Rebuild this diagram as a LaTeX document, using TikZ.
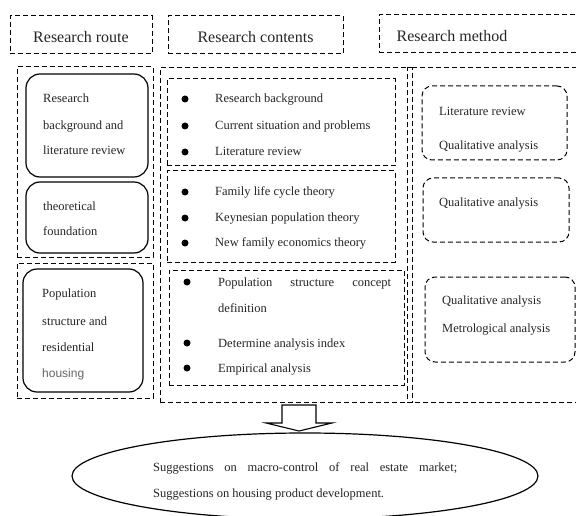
\documentclass[tikz,border=0pt]{standalone}
\usepackage{fontspec}
\setmainfont{Liberation Serif}
\newfontfamily\hsans{Liberation Sans}
\usetikzlibrary{positioning,shapes.geometric}
\tikzset{
  dbox/.style={draw, dash pattern=on 5pt off 3pt, line width=1pt, inner sep=0pt},
  rbox/.style={draw, line width=1.2pt, rounded corners=14pt, inner sep=0pt},
  drbox/.style={draw, dash pattern=on 5pt off 3pt, line width=1pt, rounded corners=10pt, inner sep=0pt},
  hd/.style={font=\fontsize{16}{19}\selectfont, inner sep=0pt, text=black!85},
  tx/.style={font=\fontsize{12.5}{15}\selectfont, anchor=base west, inner sep=0pt, text=black!85},
  bul/.style={circle, fill=black, inner sep=0pt, minimum size=7pt},
}
\begin{document}
\begin{tikzpicture}[x=1pt,y=-1pt]
\clip (0,0) rectangle (576,516);
\fill[white] (0,0) rectangle (576,516);
% headers
\node[dbox, minimum width=142pt, minimum height=38pt] (h1) at (81,35) {};
\node[hd] (h1t) at (81,37) {Research route};
\node[dbox, minimum width=175pt, minimum height=38pt] (h2) at (255.5,35) {};
\node[hd] (h2t) at (255.5,37) {Research contents};
\node[dbox, minimum width=211pt, minimum height=38pt] (h3) at (484.5,34) {};
\node[hd] (h3t) at (452,36) {Research method};
% left column
\node[dbox, minimum width=136pt, minimum height=190pt] (lo1) at (85,162) {};
\node[dbox, minimum width=136pt, minimum height=135pt] (lo2) at (85,330.5) {};
\node[rbox, minimum width=122pt, minimum height=103pt] (r1) at (87,125.5) {};
\node[rbox, minimum width=122pt, minimum height=71pt] (r2) at (87,217.5) {};
\node[rbox, minimum width=120pt, minimum height=123pt] (r3) at (83,330.5) {};
\node[tx] (l1) at (43,103) {Research};
\node[tx] (l2) at (43,130) {background and};
\node[tx] (l3) at (43,155) {literature review};
\node[tx] (l4) at (43,211) {theoretical};
\node[tx] (l5) at (43,236) {foundation};
\node[tx] (l6) at (42,297) {Population};
\node[tx] (l7) at (42,325) {structure and};
\node[tx] (l8) at (42,351) {residential};
\node[tx, font=\hsans\fontsize{12}{14}\selectfont, text=black!60] (l9) at (42,377) {housing};
% middle column
\node[dbox, minimum width=252pt, minimum height=334pt] (mo) at (286,235) {};
\node[dbox, minimum width=228pt, minimum height=87pt] (m1) at (281,122.5) {};
\node[dbox, minimum width=228pt, minimum height=91pt] (m2) at (281,216.5) {};
\node[dbox, minimum width=235pt, minimum height=115pt] (m3) at (286.5,327.5) {};
\node[bul] (b1) at (185,99) {};
\node[bul] (b2) at (185,126) {};
\node[bul] (b3) at (185,152) {};
\node[bul] (b4) at (185,192) {};
\node[bul] (b5) at (185,218) {};
\node[bul] (b6) at (185,243) {};
\node[bul] (b7) at (187,282) {};
\node[bul] (b8) at (187,343) {};
\node[bul] (b9) at (187,368) {};
\node[tx] (c1) at (215,103) {Research background};
\node[tx] (c2) at (215,130) {Current situation and problems};
\node[tx] (c3) at (215,156) {Literature review};
\node[tx] (c4) at (215,196) {Family life cycle theory};
\node[tx] (c5) at (215,222) {Keynesian population theory};
\node[tx] (c6) at (215,247) {New family economics theory};
\node[tx] (c7) at (218,286) {\makebox[173pt][s]{Population structure concept}};
\node[tx] (c8) at (218,312) {definition};
\node[tx] (c9) at (218,347) {Determine analysis index};
\node[tx] (c10) at (218,372) {Empirical analysis};
% right column
\node[dbox, minimum width=190pt, minimum height=334pt] (ro) at (502,235) {};
\node[drbox, minimum width=145pt, minimum height=74pt] (d1) at (494.5,123) {};
\node[drbox, minimum width=146pt, minimum height=64pt] (d2) at (496,210) {};
\node[drbox, minimum width=150pt, minimum height=85pt] (d3) at (500,319.5) {};
\node[tx] (e1) at (439,116) {Literature review};
\node[tx] (e2) at (439,150) {Qualitative analysis};
\node[tx] (e3) at (439,207) {Qualitative analysis};
\node[tx] (e4) at (442,304) {Qualitative analysis};
\node[tx] (e5) at (442,332) {Metrological analysis};
% block arrow
\draw[line width=1.1pt, fill=white] (282,405) -- (316,405) -- (316,423) -- (332,423) -- (299,431) -- (266,423) -- (282,423) -- cycle;
% ellipse
\node[draw, ellipse, line width=1.2pt, minimum width=466pt, minimum height=86pt] (el) at (305,476) {};
\node[tx] (s1) at (153,471) {\makebox[304pt][s]{Suggestions on macro-control of real estate market;}};
\node[tx] (s2) at (153,497) {Suggestions on housing product development.};
\end{tikzpicture}
\end{document}
